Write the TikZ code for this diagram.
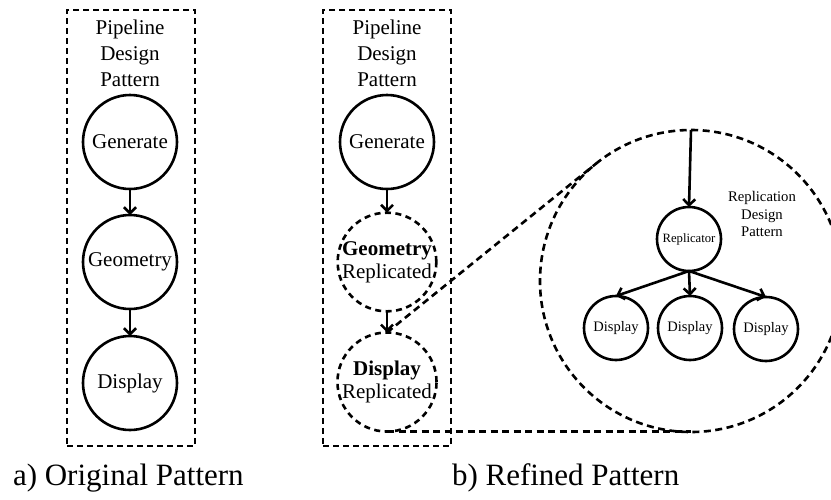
\documentclass[tikz,border=0pt]{standalone}
\usepackage{fontspec}
\setmainfont{Liberation Serif}
\usetikzlibrary{arrows.meta,calc}
\begin{document}
\begin{tikzpicture}[x=1pt,y=-1pt,
  every node/.style={inner sep=0pt, outer sep=0pt},
  dashbox/.style={draw, line width=2.6pt, dash pattern=on 6pt off 4pt, rectangle},
  bigc/.style={draw, circle, line width=2.6pt, minimum size=94pt, font=\fontsize{21}{23}\selectfont, align=center},
  bigcd/.style={bigc, dash pattern=on 6pt off 4.5pt},
  smallc/.style={draw, circle, line width=2.6pt, minimum size=64pt, font=\fontsize{14.5}{16}\selectfont},
  title/.style={align=center, font=\fontsize{21}{26}\selectfont},
  arr/.style={line width=2.6pt, -{Straight Barb[length=6pt,width=12pt]}},
  dline/.style={line width=2.6pt, dash pattern=on 7pt off 4.5pt},
  caption/.style={font=\fontsize{31}{34}\selectfont, anchor=base west}
]
\useasboundingbox (0,0) rectangle (831,499);
% left panel
\node[dashbox, minimum width=128pt, minimum height=436pt] (boxL) at (131,228) {};
\node[title] (tL) at (130,53) {Pipeline\\Design\\Pattern};
\node[bigc] (genL) at (130,142) {Generate};
\node[bigc] (geoL) at (130,262) {Geometry};
\node[bigc] (disL) at (130,383) {Display};
\draw[arr] (genL.south) -- (geoL.north);
\draw[arr] (geoL.south) -- (disL.north);
\node[caption] (capA) at (13,485) {a) Original Pattern};
% right panel
\node[dashbox, minimum width=128pt, minimum height=436pt] (boxR) at (387,228) {};
\node[title] (tR) at (387,53) {Pipeline\\Design\\Pattern};
\node[bigc] (genR) at (387,142) {Generate};
\node[bigcd] (geoR) at (387,262) {\textbf{Geometry}\\Replicated};
\node[bigcd] (disR) at (387,382) {\textbf{Display}\\Replicated};
\draw[arr] (genR.south) -- (geoR.north);
\draw[arr] (geoR.south) -- (disR.north);
\node[caption] (capB) at (452,485) {b) Refined Pattern};
% zoomed replication
\node[draw, circle, line width=2.6pt, dash pattern=on 7pt off 4.5pt, minimum size=302pt] (big) at (691,281) {};
\node[smallc, font=\fontsize{12.7}{14}\selectfont] (rep) at (689,239) {Replicator};
\node[smallc] (d1) at (616,328) {Display};
\node[smallc] (d2) at (690,328) {Display};
\node[smallc] (d3) at (766,329) {Display};
\node[align=center, font=\fontsize{14.7}{17.5}\selectfont] (rtitle) at (762,214) {Replication\\Design\\Pattern};
\draw[arr] (big.north) -- (rep.north);
\draw[arr] (rep.south) -- (d1.north);
\draw[arr] (rep.south) -- (d2.north);
\draw[arr] (rep.south) -- (d3.north);
\coordinate (tp) at (tangent cs:node=big,point={(disR.north)},solution=2);
\draw[dline] (disR.north) -- (tp);
\coordinate (bp) at (disR.south -| big.south);
\draw[dline] (disR.south) -- (bp);
\end{tikzpicture}
\end{document}
